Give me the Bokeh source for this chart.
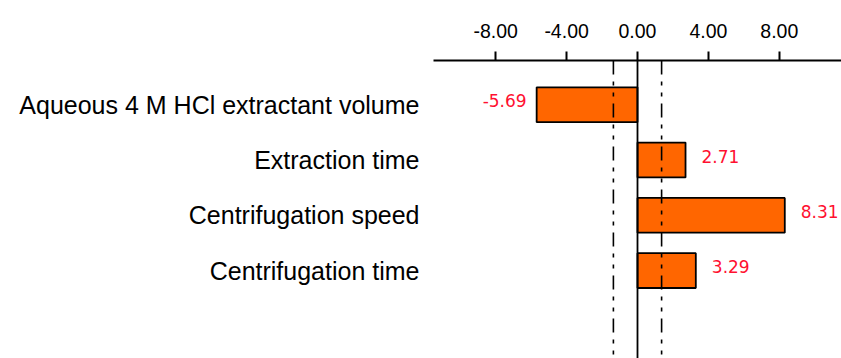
from bokeh.plotting import figure
from bokeh.models import (ColumnDataSource, Range1d, LinearAxis, FixedTicker,
                          NumeralTickFormatter, Span)
from bokeh.embed import file_html
from bokeh.resources import INLINE

# ---- data ----
categories = ["Aqueous 4 M HCl extractant volume", "Extraction time",
              "Centrifugation speed", "Centrifugation time"]
effects = [-5.69, 2.71, 8.31, 3.29]
critical_value = 1.36
x_ticks = [-8, -4, 0, 4, 8]

ypos = list(range(len(categories)))
left = [min(0, v) for v in effects]
right = [max(0, v) for v in effects]
labels = ["%.2f" % v for v in effects]
pos_idx = [i for i, v in enumerate(effects) if v >= 0]
neg_idx = [i for i, v in enumerate(effects) if v < 0]

src = ColumnDataSource(dict(y=ypos, left=left, right=right, v=effects, lab=labels))
src_pos = ColumnDataSource(dict(y=[ypos[i] for i in pos_idx], v=[effects[i] for i in pos_idx],
                                lab=[labels[i] for i in pos_idx]))
src_neg = ColumnDataSource(dict(y=[ypos[i] for i in neg_idx], v=[effects[i] for i in neg_idx],
                                lab=[labels[i] for i in neg_idx]))

p = figure(width=841, height=358, output_backend="svg", toolbar_location=None,
           x_range=Range1d(-11.51, 11.51), y_range=Range1d(4.59, -0.80),
           x_axis_location=None, y_axis_location=None,
           min_border_left=433, min_border_right=0, min_border_top=60, min_border_bottom=0)
p.outline_line_color = None
p.xgrid.visible = False
p.ygrid.visible = False
p.background_fill_color = "white"
p.border_fill_color = "white"

# top axis
xa = LinearAxis(ticker=FixedTicker(ticks=x_ticks),
                formatter=NumeralTickFormatter(format="0.00"))
xa.axis_line_color = "black"
xa.axis_line_width = 2
xa.major_tick_line_color = "black"
xa.major_tick_line_width = 2
xa.major_tick_out = 9
xa.major_tick_in = 0
xa.minor_tick_line_color = None
xa.major_label_text_font = "Liberation Sans"
xa.major_label_text_font_size = "19.5px"
xa.major_label_text_color = "black"
xa.major_label_standoff = 14
p.add_layout(xa, "above")

# left category axis
ya = LinearAxis(ticker=FixedTicker(ticks=ypos),
                major_label_overrides={i: c for i, c in zip(ypos, categories)})
ya.axis_line_color = None
ya.major_tick_line_color = None
ya.minor_tick_line_color = None
ya.major_label_text_font = "Liberation Sans"
ya.major_label_text_font_size = "25px"
ya.major_label_text_color = "black"
ya.major_label_standoff = 8
p.add_layout(ya, "left")

# reference lines
p.add_layout(Span(location=0, dimension="height", line_color="black", line_width=1.8))
for cv in (-critical_value, critical_value):
    p.add_layout(Span(location=cv, dimension="height", line_color="black",
                      line_width=1.6, line_dash="14 7 4 7 4 7"))

# bars
p.hbar(y="y", left="left", right="right", height=0.63, source=src,
       fill_color="#FF6600", line_color="black", line_width=1.8)

# value labels
p.text(x="v", y="y", text="lab", source=src_pos, x_offset=16, y_offset=-4,
       text_align="left", text_baseline="middle", text_color="#FF1030",
       text_font_size="17px", text_font={"value": "DejaVu Sans"})
p.text(x="v", y="y", text="lab", source=src_neg, x_offset=-10, y_offset=-4,
       text_align="right", text_baseline="middle", text_color="#FF1030",
       text_font_size="17px", text_font={"value": "DejaVu Sans"})

open("out.html", "w").write(file_html(p, INLINE))
